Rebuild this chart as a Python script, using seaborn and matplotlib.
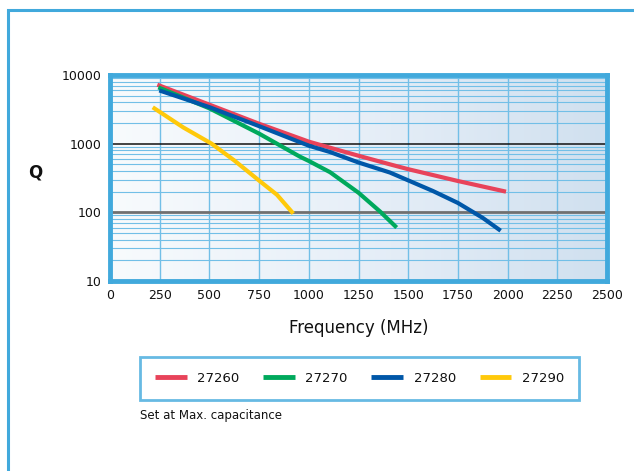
import numpy as np
import pandas as pd
import matplotlib
matplotlib.use("Agg")
import matplotlib.pyplot as plt
import seaborn as sns
from matplotlib.patches import Rectangle
from matplotlib.colors import LinearSegmentedColormap

# ---- data ----
series_names = ["27260", "27270", "27280", "27290"]

freq_27260 = [238, 500, 750, 1000, 1107, 1250, 1408, 1500, 1750, 1992]
q_27260 = [7220, 3700, 1950, 1070, 873, 667, 500, 425, 286, 200]

freq_27270 = [243, 500, 750, 956, 1000, 1107, 1250, 1358, 1442]
q_27270 = [6600, 3270, 1400, 645, 560, 384, 193, 103, 60]

freq_27280 = [248, 500, 750, 1000, 1107, 1250, 1408, 1500, 1625, 1750, 1875, 1965]
q_27280 = [5960, 3400, 1800, 935, 755, 532, 380, 292, 204, 137, 83, 54]

freq_27290 = [215, 369, 511, 625, 750, 840, 922]
q_27290 = [3385, 1720, 1000, 570, 290, 180, 96]

colors = ["#e8435a", "#00a95c", "#0057a8", "#ffc90a"]
x_ticks = [0, 250, 500, 750, 1000, 1250, 1500, 1750, 2000, 2250, 2500]
y_ticks = [10, 100, 1000, 10000]

frames = []
for name, f, q in [("27260", freq_27260, q_27260), ("27270", freq_27270, q_27270),
                   ("27280", freq_27280, q_27280), ("27290", freq_27290, q_27290)]:
    frames.append(pd.DataFrame({"Frequency": f, "Q": q, "Series": name}))
df = pd.concat(frames, ignore_index=True)

sns.set_theme(style="white")
plt.rcParams["font.family"] = ["DejaVu Sans"]

W, H = 634, 471
fig = plt.figure(figsize=(W / 100, H / 100), dpi=100)
fig.patch.set_facecolor("white")

border_blue = "#41a9dc"
grid_blue = "#72bfe7"

# outer frame (extends beyond right/bottom edges)
fig.patches.append(Rectangle((7.5 / W, -0.2), 1.2, 1 - 9.5 / H + 0.2,
                             transform=fig.transFigure, fill=False,
                             edgecolor=border_blue, linewidth=2.2, zorder=0))

ax = fig.add_axes([110 / W, 1 - 281 / H, (607 - 110) / W, (281 - 75) / H])
ax.set_yscale("log")
ax.set_xlim(0, 2500)
ax.set_ylim(10, 10000)

# gradient background
cmap = LinearSegmentedColormap.from_list("bg", ["#f8fbfd", "#e7eff8", "#d0e0ef"])
grad = np.linspace(0, 1, 256).reshape(1, -1)
ax.imshow(grad, extent=[0, 1, 0, 1], transform=ax.transAxes, cmap=cmap,
          aspect="auto", zorder=0)

# grid
for xv in x_ticks[1:-1]:
    ax.axvline(xv, color=grid_blue, lw=1.0, zorder=1)
for dec in [10, 100, 1000]:
    for m in range(2, 10):
        ax.axhline(dec * m, color=grid_blue, lw=0.8, zorder=1)
ax.axhline(1000, color="#111111", lw=1.1, zorder=1.5)
ax.axhline(100, color="#707070", lw=2.0, zorder=1.5)

sns.lineplot(data=df, x="Frequency", y="Q", hue="Series", hue_order=series_names,
             palette=colors, linewidth=3.0, ax=ax, sort=False, estimator=None,
             legend=True, zorder=3)
for ln in ax.get_lines():
    ln.set_solid_capstyle("butt")
    ln.set_solid_joinstyle("round")

for s in ax.spines.values():
    s.set_color(border_blue)
    s.set_linewidth(3.5)
    s.set_visible(True)

ax.set_xticks(x_ticks)
ax.set_xticklabels([str(v) for v in x_ticks], fontsize=9, color="#111111")
ax.set_yticks(y_ticks)
ax.set_yticklabels([str(v) for v in y_ticks], fontsize=9, color="#111111")
ax.yaxis.set_minor_locator(matplotlib.ticker.NullLocator())
ax.tick_params(axis="both", length=0, pad=6)
ax.set_xlabel("Frequency (MHz)", fontsize=12, color="#111111", labelpad=12)
ax.set_ylabel("")
fig.text(35 / W, 1 - 173 / H, "Q", fontsize=12, fontweight="bold",
         ha="center", va="center", color="#111111")

handles, labels = ax.get_legend_handles_labels()
ax.get_legend().remove()
leg = fig.legend(handles, labels, loc="center", ncol=4,
                 bbox_to_anchor=(359.5 / W, 1 - 378.5 / H),
                 frameon=True, fancybox=False, fontsize=9.5,
                 handlelength=2.4, columnspacing=1.8, handletextpad=0.8,
                 borderpad=1.1, borderaxespad=0)
leg.get_frame().set_edgecolor(border_blue)
leg.get_frame().set_linewidth(2.0)
for lh in leg.get_lines():
    lh.set_linewidth(3.5)
for t in leg.get_texts():
    t.set_color("#111111")

fig.text(140 / W, 1 - 415 / H, "Set at Max. capacitance", fontsize=8.5,
         ha="left", va="center", color="#111111")

fig.savefig("out.png", dpi=100)
